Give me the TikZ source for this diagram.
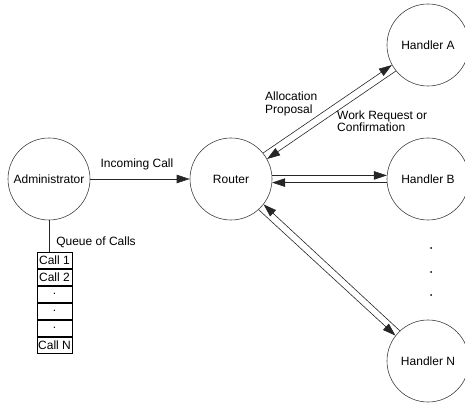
\documentclass[tikz,border=0pt]{standalone}
\usepackage{fontspec}
\setmainfont{Liberation Sans}
\usetikzlibrary{arrows.meta,calc}
\begin{document}
\begin{tikzpicture}[x=1pt,y=1pt,
  agent/.style={circle,draw=black!75,line width=0.6pt,minimum size=82pt,inner sep=0pt,
    font=\fontsize{12}{14}\selectfont},
  msg/.style={draw=black!85,line width=0.6pt,-{Triangle[length=13pt,width=8.5pt]}},
  lbl/.style={font=\fontsize{12}{12.5}\selectfont,inner sep=0pt},
  cell/.style={draw,line width=0.6pt,minimum width=35pt,minimum height=16.33pt,inner sep=0pt,
    anchor=north,font=\fontsize{12}{14}\selectfont},
  dot/.style={circle,fill=black,inner sep=0pt,minimum size=2pt}]
\useasboundingbox (0,0) rectangle (465,404);

% agents
\node[agent] (adm) at (49,225)  {Administrator};
\node[agent] (rt)  at (231,225) {Router};
\node[agent] (ha)  at (428,359) {Handler A};
\node[agent] (hb)  at (428,225) {Handler B};
\node[agent] (hn)  at (428,43)  {Handler N};

% ellipsis between Handler B and Handler N
\node[dot] (d1) at (431,156) {};
\node[dot] (d2) at (431,132) {};
\node[dot] (d3) at (431,109) {};

% queue of calls
\node[cell] (q1) at (54.5,152) {Call 1};
\node[cell] (q2) at (q1.south) {Call 2};
\node[cell] (q3) at (q2.south) {.};
\node[cell] (q4) at (q3.south) {.};
\node[cell] (q5) at (q4.south) {.};
\node[cell] (q6) at (q5.south) {Call N};
\draw[draw=black!85,line width=0.6pt] (adm.south) -- (adm.south |- q1.north);
\node[lbl] (qlbl) at (96,162) {Queue of Calls};

% incoming call
\draw[msg] (adm) -- (rt);
\node[lbl] (inc) at (137,240) {Incoming Call};

% router <-> handler A
\draw[msg] (rt.39) -- (ha.209);
\draw[msg] (ha.219) -- (rt.29);
\node[lbl,anchor=west,align=left] (alloc) at (265,300) {Allocation\\Proposal};
\node[lbl,anchor=west,align=left] (work) at (337,283) {Work Request or\\Confirmation};

% router <-> handler B
\draw[msg] (rt.5) -- (hb.175);
\draw[msg] (hb.185) -- (rt.-5);

% router <-> handler N
\draw[msg] (hn.133) -- (rt.-38);
\draw[msg] (rt.-48) -- (hn.142);
\end{tikzpicture}
\end{document}
